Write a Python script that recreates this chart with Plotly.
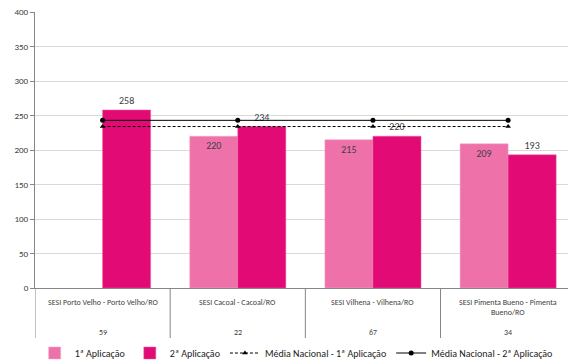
import plotly.graph_objects as go

categories = ["SESI Porto Velho - Porto Velho/RO", "SESI Cacoal - Cacoal/RO",
              "SESI Vilhena - Vilhena/RO", "SESI Pimenta Bueno - Pimenta<br>Bueno/RO"]
counts = ["59", "22", "67", "34"]
app1 = [None, 220, 215, 209]
app2 = [258, 234, 220, 193]
media1 = [234, 234, 234, 234]
media2 = [243, 243, 243, 243]
y_ticks = [0, 50, 100, 150, 200, 250, 300, 350, 400]

FONT = "Liberation Sans Narrow, Carlito, Noto Sans, sans-serif"
TXT = "#404040"
xpos = list(range(len(categories)))

fig = go.Figure()
fig.add_trace(go.Bar(
    x=xpos, y=app1, name="1ª Aplicação", marker_color="#EE72A9",
    text=[None if v is None else str(v) for v in app1], textposition="inside",
    insidetextanchor="end", textfont=dict(size=10, color=TXT, family=FONT),
    marker_line=dict(width=0.5, color="#F5A9CB"),
))
fig.add_trace(go.Bar(
    x=xpos, y=app2, name="2ª Aplicação", marker_color="#E20A74",
    text=[str(v) for v in app2], textposition="outside", cliponaxis=False,
    textfont=dict(size=10, color=TXT, family=FONT),
    marker_line=dict(width=0.5, color="#EE5FA3"),
))
fig.add_trace(go.Scatter(
    x=xpos, y=media1, name="Média Nacional - 1ª Aplicação", mode="lines+markers",
    line=dict(color="black", width=1, dash="3px,2px"),
    marker=dict(symbol="triangle-up", size=5, color="black"),
))
fig.add_trace(go.Scatter(
    x=xpos, y=media2, name="Média Nacional - 2ª Aplicação", mode="lines+markers",
    line=dict(color="black", width=1),
    marker=dict(symbol="circle", size=5, color="black"),
))

H_PLOT = 276.0
def py(px_below):
    return -px_below / H_PLOT

for i, c in enumerate(categories):
    fig.add_annotation(x=i, xref="x", y=py(7), yref="paper", text=c, showarrow=False,
                       yanchor="top", xanchor="center",
                       font=dict(size=8, color=TXT, family=FONT))
    fig.add_annotation(x=i, xref="x", y=py(44), yref="paper", text=counts[i], showarrow=False,
                       yanchor="middle", xanchor="center",
                       font=dict(size=8, color=TXT, family=FONT))

for xs in [-0.5, 0.5, 1.5, 2.5]:
    fig.add_shape(type="line", xref="x", yref="paper", x0=xs, x1=xs, y0=0, y1=py(50),
                  line=dict(color="#868686", width=1))

fig.update_layout(
    width=568, height=361,
    margin=dict(l=35, r=0, t=12, b=73, autoexpand=False),
    paper_bgcolor="white", plot_bgcolor="white",
    barmode="group", bargap=0.289, bargroupgap=0,
    showlegend=True,
    legend=dict(orientation="h", x=0.49, xanchor="center", y=py(65), yanchor="middle",
                font=dict(size=10, color="#222222", family=FONT), traceorder="normal",
                itemwidth=30, tracegroupgap=0),
    font=dict(family=FONT, color=TXT),
)
fig.update_xaxes(range=[-0.5, 3.443], showticklabels=False, showgrid=False,
                 showline=True, linecolor="#868686", linewidth=1, zeroline=False, ticks="")
fig.update_yaxes(range=[0, 400], tickvals=y_ticks, showgrid=True, gridcolor="#D9D9D9",
                 gridwidth=1, showline=True, linecolor="#868686", linewidth=1,
                 ticks="outside", ticklen=4, tickcolor="#868686", zeroline=False,
                 tickfont=dict(size=9, color=TXT, family=FONT))

fig.write_html("out.html")
